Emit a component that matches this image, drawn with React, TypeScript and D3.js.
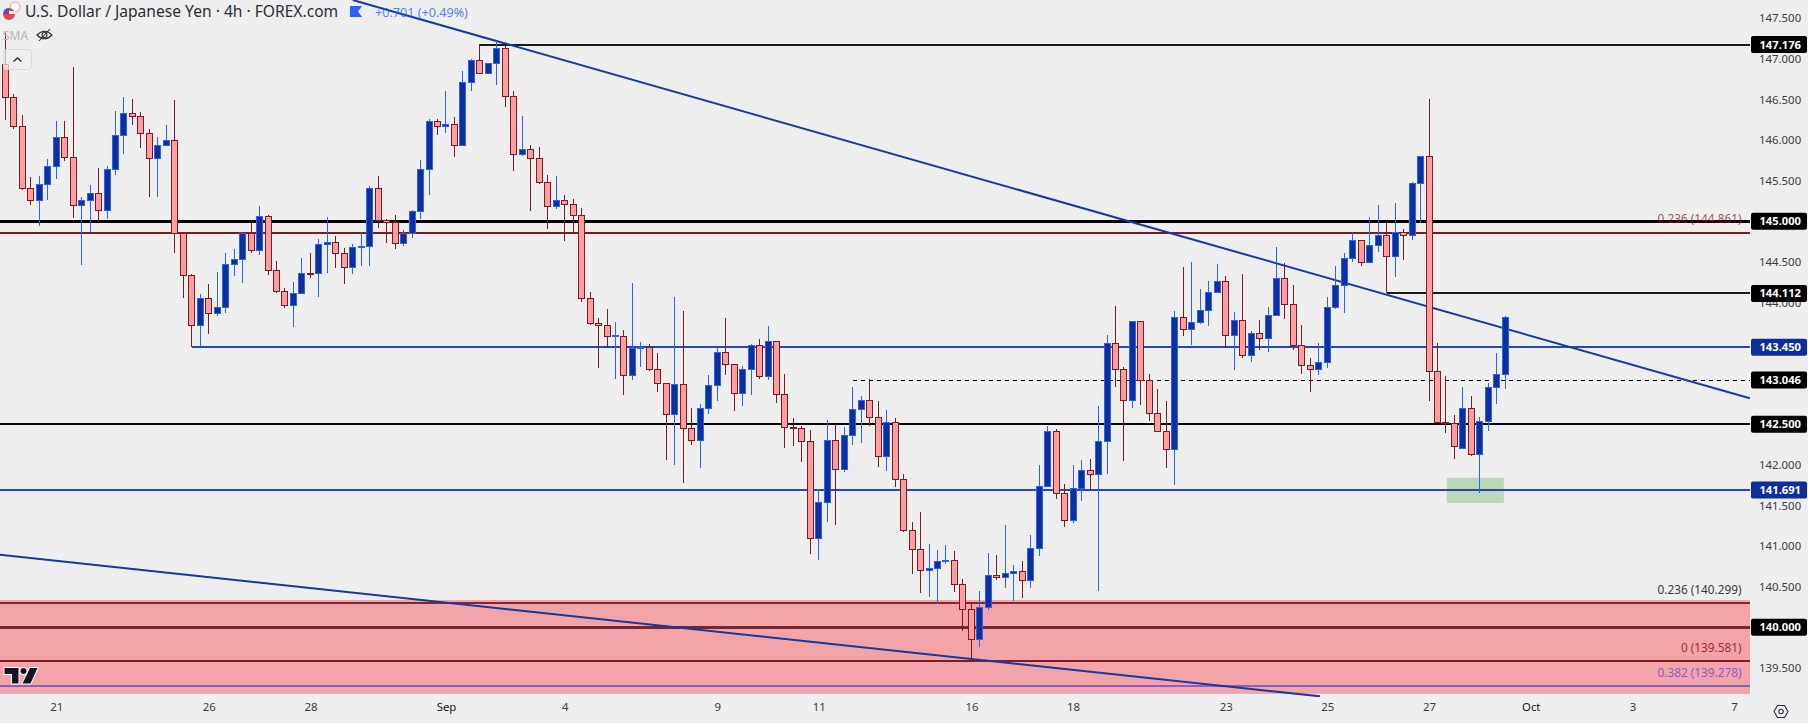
import React, { useEffect, useRef } from "react";
import * as d3 from "d3";

// OHLC per 4h bar
const opens = [
  146.933,146.527,146.166,145.402,145.259,145.456,145.677,146.034,145.788,145.197,
  145.259,145.345,145.135,145.640,146.059,146.330,146.293,146.084,145.776,145.936,
  145.998,144.852,144.335,143.719,144.052,143.867,143.941,144.470,144.532,144.852,
  144.643,145.062,144.397,144.138,143.966,144.113,144.360,144.351,144.717,144.741,
  144.606,144.434,144.680,144.692,145.406,145.012,144.988,144.729,144.852,145.123,
  145.640,146.232,146.170,146.195,145.936,146.712,146.983,146.823,146.946,147.131,
  146.539,145.825,145.887,145.776,145.480,145.185,145.259,145.209,145.074,144.052,
  143.744,143.719,143.580,143.584,143.103,143.432,143.448,143.173,143.005,142.623,
  142.993,142.451,142.303,142.697,142.980,143.387,143.239,142.882,143.177,143.473,
  143.091,143.522,142.869,142.463,142.451,142.291,141.096,141.539,142.303,141.946,
  142.365,142.685,142.796,142.586,142.106,142.525,141.823,141.195,140.961,140.702,
  140.727,140.813,140.825,140.530,140.222,139.852,140.246,140.640,140.616,140.665,
  140.690,140.579,140.973,141.737,142.414,141.650,141.318,141.712,141.934,141.884,
  142.291,143.498,143.177,142.796,143.768,143.042,142.636,142.414,142.192,143.818,
  143.670,143.756,143.904,144.126,144.261,143.596,143.781,143.350,143.621,143.559,
  143.842,144.298,143.978,143.473,143.227,143.177,143.264,143.941,144.212,144.544,
  144.766,144.495,144.704,144.828,144.569,144.865,144.828,145.468,145.800,143.153,
  142.521,142.508,142.204,142.697,142.131,142.537,142.956,143.116,
];
const closes = [
  146.527,146.166,145.402,145.259,145.456,145.677,146.034,145.788,145.197,145.259,
  145.345,145.135,145.640,146.059,146.330,146.293,146.084,145.776,145.936,145.998,
  144.852,144.335,143.719,144.052,143.867,143.941,144.470,144.532,144.852,144.643,
  145.062,144.397,144.138,143.966,144.113,144.360,144.351,144.717,144.741,144.606,
  144.434,144.680,144.692,145.406,145.008,144.988,144.729,144.852,145.123,145.640,
  146.232,146.170,146.195,145.936,146.712,146.983,146.823,146.946,147.131,146.539,
  145.825,145.887,145.776,145.480,145.185,145.259,145.209,145.074,144.052,143.744,
  143.719,143.584,143.588,143.103,143.436,143.440,143.173,143.005,142.623,142.993,
  142.451,142.303,142.697,142.980,143.387,143.239,142.882,143.177,143.473,143.091,
  143.522,142.869,142.463,142.451,142.291,141.096,141.539,142.303,141.946,142.365,
  142.685,142.796,142.586,142.106,142.525,141.823,141.195,140.961,140.702,140.727,
  140.813,140.825,140.530,140.222,139.852,140.246,140.640,140.616,140.665,140.690,
  140.579,140.973,141.737,142.414,141.650,141.318,141.712,141.934,141.884,142.291,
  143.498,143.177,142.796,143.768,143.042,142.636,142.414,142.192,143.818,143.670,
  143.756,143.904,144.126,144.261,143.596,143.781,143.350,143.621,143.559,143.842,
  144.298,143.978,143.473,143.227,143.177,143.264,143.941,144.212,144.544,144.766,
  144.495,144.704,144.828,144.569,144.865,144.828,145.468,145.800,143.153,142.521,
  142.508,142.229,142.697,142.131,142.537,142.956,143.116,143.818,
];
const highs = [
  147.315,146.564,146.309,145.546,145.558,145.768,146.236,146.236,146.901,145.300,
  145.447,145.657,145.677,146.359,146.531,146.507,146.346,146.137,146.039,146.186,
  146.494,144.852,144.351,144.105,144.228,144.376,144.610,144.659,144.869,144.979,
  145.189,145.078,144.512,144.179,144.253,144.548,144.610,144.782,145.053,144.815,
  144.672,144.721,144.869,145.435,145.558,145.029,145.078,144.893,145.140,145.755,
  146.260,146.260,146.605,146.281,146.851,146.995,147.184,146.946,147.221,147.155,
  146.605,146.297,145.940,145.915,145.571,145.558,145.324,145.275,145.164,144.130,
  143.810,143.920,143.760,143.662,144.241,143.514,143.489,143.379,143.005,144.068,
  143.896,142.701,142.750,143.108,143.452,143.810,143.239,143.218,143.489,143.551,
  143.711,143.522,143.120,142.578,142.480,142.430,141.704,142.553,142.504,142.467,
  142.960,142.845,143.058,142.787,142.677,142.578,141.888,141.297,141.420,141.026,
  140.952,141.014,140.940,140.595,140.287,140.447,140.916,140.891,141.260,140.768,
  140.817,141.137,141.999,142.480,142.443,141.765,141.999,142.061,142.073,142.726,
  143.600,143.957,143.206,143.768,143.768,143.120,142.935,142.787,143.896,144.438,
  144.499,144.167,144.265,144.475,144.327,143.883,144.351,143.649,143.781,143.945,
  144.684,144.487,144.216,143.723,143.317,143.502,144.068,144.450,144.610,144.856,
  144.766,145.053,145.201,144.979,145.226,144.901,145.484,145.800,146.507,143.502,
  143.095,142.615,142.960,142.849,142.590,143.009,143.379,143.834,
];
const lows = [
  146.248,146.137,145.386,145.201,144.943,145.263,145.521,145.743,145.041,144.462,
  144.856,144.996,145.029,145.571,145.829,146.186,145.903,145.300,145.300,145.936,
  144.610,144.056,143.452,143.452,143.613,143.834,143.871,144.327,144.241,144.610,
  144.585,144.339,144.122,143.933,143.699,144.105,144.302,144.068,144.364,144.425,
  144.228,144.351,144.450,144.450,144.918,144.733,144.659,144.696,144.795,145.029,
  145.324,146.063,146.088,145.792,145.936,146.605,146.823,146.823,146.679,146.408,
  145.620,145.805,145.127,145.460,144.906,145.152,144.758,144.869,144.007,143.723,
  143.194,143.436,143.058,142.861,143.046,143.206,143.157,142.898,142.061,141.999,
  141.778,142.246,141.962,142.627,142.787,143.108,142.664,142.726,142.861,143.058,
  143.046,142.763,142.209,142.233,142.036,140.903,140.829,141.297,141.260,141.913,
  142.246,142.270,142.480,141.975,141.925,141.728,141.174,140.657,140.423,140.374,
  140.287,140.780,140.435,139.955,139.581,139.758,140.214,140.583,140.484,140.324,
  140.361,140.484,140.879,141.737,141.580,141.236,141.285,141.556,141.691,140.447,
  141.888,142.960,142.049,142.701,142.738,142.541,142.414,141.962,141.753,143.588,
  143.477,143.736,143.711,144.126,143.440,143.169,143.317,143.268,143.415,143.391,
  143.842,143.797,143.415,143.120,142.898,143.108,143.194,143.920,143.871,144.499,
  144.450,144.495,144.622,144.117,144.314,144.524,144.770,144.975,142.787,142.512,
  142.393,142.073,142.204,142.106,141.654,142.418,142.750,142.935,
];

// x axis: bar index of each date label
const dateBars = [6, 24, 36, 52, 66, 84, 96, 114, 126, 144, 156, 168, 180, 192, 204];
const dateLabels = ["21", "26", "28", "Sep", "4", "9", "11", "16", "18", "23", "25", "27", "Oct", "3", "7"];
const priceTicks = [139.5, 140, 140.5, 141, 141.5, 142, 142.5, 143, 143.5, 144, 144.5, 145, 145.5, 146, 146.5, 147, 147.5];

// horizontal levels and the bar they start from
const levelPrices = [147.176, 145, 144.861, 144.112, 143.45, 143.046, 142.5, 141.691, 140.299, 140, 139.581, 139.278];
const levelStartBars = [56, -1, -1, 163, 22, 100, -1, -1, -1, -1, -1, -1];
const tagPrices = [147.176, 145, 144.112, 143.45, 143.046, 142.5, 141.691, 140];
const blueTags = [143.45, 141.691];

// fib labels
const fibRatios = ["0.236", "0.236", "0", "0.382"];
const fibPrices = [144.861, 140.299, 139.581, 139.278];

// trendlines: [bar, price]
const upperTrend = [[41, 147.725], [205.86, 142.82]];
const lowerTrend = [[-0.63, 140.894], [155.13, 139.15]];
const zoneBand = [140.336, 139.18];
const greenBox = { bars: [170.1, 176.83], prices: [141.84, 141.53] };

const UP_FILL = "#0d2f99", UP_LINE = "#2962ff", DOWN_FILL = "#fa9ea2", DOWN_LINE = "#801922";

export default function App() {
  const ref = useRef<SVGSVGElement>(null);

  useEffect(() => {
    const svg = d3.select(ref.current);
    svg.selectAll("*").remove();

    const width = 1808, height = 723, paneW = 1750, paneH = 697;
    const x = d3.scaleLinear().domain([0, 177]).range([5.33, 1505.3]);
    const y = d3.scaleLinear().domain([145, 140]).range([221.3, 627.3]);
    const font = "'Noto Sans', sans-serif";

    svg.append("rect").attr("width", width).attr("height", height).attr("fill", "#eeeeee");
    svg.append("clipPath").attr("id", "pane").append("rect").attr("width", paneW).attr("height", paneH);
    const pane = svg.append("g").attr("clip-path", "url(#pane)");

    // fib zone
    pane.append("rect")
      .attr("x", 0).attr("width", paneW)
      .attr("y", y(zoneBand[0])).attr("height", y(zoneBand[1]) - y(zoneBand[0]))
      .attr("fill", "#f3a4a9");

    // green box
    pane.append("rect")
      .attr("x", x(greenBox.bars[0])).attr("width", x(greenBox.bars[1]) - x(greenBox.bars[0]))
      .attr("y", y(greenBox.prices[0])).attr("height", y(greenBox.prices[1]) - y(greenBox.prices[0]))
      .attr("fill", "#bbd9b9");

    // levels
    const levelColors = ["#1a1a1a", "#000", "#801922", "#1a1a1a", "#2a4ba5", "#000", "#000", "#2a4ba5", "#7c2a32", "#76262e", "#851a25", "#8b5fbf"];
    const levelWidths = [2, 3, 2, 2, 2, 1, 2, 2, 2, 3, 2, 2];
    pane.selectAll(".level").data(levelPrices).join("line").attr("class", "level")
      .attr("x1", (d, i) => (levelStartBars[i] < 0 ? 0 : x(levelStartBars[i])))
      .attr("x2", paneW)
      .attr("y1", d => Math.round(y(d)))
      .attr("y2", d => Math.round(y(d)))
      .attr("stroke", (d, i) => levelColors[i])
      .attr("stroke-width", (d, i) => levelWidths[i])
      .attr("stroke-dasharray", d => (d === 143.046 ? "4 4" : null))
      .attr("shape-rendering", "crispEdges");

    // trendlines
    const trend = d3.line<number[]>().x(d => x(d[0])).y(d => y(d[1]));
    pane.selectAll(".trend").data([upperTrend, lowerTrend]).join("path").attr("class", "trend")
      .attr("d", d => trend(d))
      .attr("fill", "none").attr("stroke", "#163a9e").attr("stroke-width", 2);

    // candles
    const bars = d3.range(opens.length);
    const col = (i: number) => Math.floor(x(i));
    const isUp = (i: number) => closes[i] >= opens[i];
    pane.selectAll(".wick").data(bars).join("line").attr("class", "wick")
      .attr("x1", i => col(i) + 0.5).attr("x2", i => col(i) + 0.5)
      .attr("y1", i => Math.round(y(highs[i]))).attr("y2", i => Math.round(y(lows[i])))
      .attr("stroke", i => (isUp(i) ? UP_LINE : DOWN_LINE))
      .attr("shape-rendering", "crispEdges");
    pane.selectAll(".body").data(bars).join("rect").attr("class", "body")
      .attr("x", i => col(i) - 2.5).attr("width", 6)
      .attr("y", i => Math.floor(y(Math.max(opens[i], closes[i]))) + 0.5)
      .attr("height", i => Math.max(1, Math.floor(y(Math.min(opens[i], closes[i]))) - Math.floor(y(Math.max(opens[i], closes[i])))))
      .attr("fill", i => (isUp(i) ? UP_FILL : DOWN_FILL))
      .attr("stroke", i => (isUp(i) ? UP_LINE : DOWN_LINE))
      .attr("shape-rendering", "crispEdges");

    // fib labels
    const fibColors = ["#801922", "#3a3a3a", "#a12a3b", "#8b5fbf"];
    const fibOffsets = [-13, -12, -12, -12];
    svg.selectAll(".fib").data(fibPrices).join("text").attr("class", "fib")
      .attr("x", 1741.5)
      .attr("y", (d, i) => y(d) + fibOffsets[i])
      .attr("dominant-baseline", "middle")
      .attr("text-anchor", "end")
      .attr("font-family", font).attr("font-size", 11.8)
      .attr("fill", (d, i) => fibColors[i])
      .attr("fill-opacity", (d, i) => (i === 0 ? 0.75 : 1))
      .text((d, i) => `${fibRatios[i]} (${d3.format(".3f")(d)})`);

    // price axis
    const yAxis = d3.axisRight(y).tickValues(priceTicks).tickFormat(d3.format(".3f") as any).tickSize(0).tickPadding(0);
    const yG = svg.append("g").attr("transform", "translate(1759,0)").call(yAxis);
    yG.select(".domain").remove();
    yG.selectAll("text").attr("font-family", font).attr("font-size", 11.4).attr("fill", "#3c3c3c");

    // time axis
    const xAxis = d3.axisBottom(x).tickValues(dateBars)
      .tickFormat((d, i) => dateLabels[i]).tickSize(0).tickPadding(0);
    const xG = svg.append("g").attr("transform", "translate(0,703)").call(xAxis);
    xG.select(".domain").remove();
    xG.selectAll("text").attr("font-family", font).attr("font-size", 11.4)
      .attr("fill", (d: any) => (d === 52 || d === 180 ? "#131722" : "#3c3c3c"));

    // last-value tags on the axis
    const tags = svg.selectAll(".tag").data(tagPrices).join("g").attr("class", "tag")
      .attr("transform", d => `translate(1751,${y(d)})`);
    tags.append("rect")
      .attr("y", -8.5).attr("width", 56).attr("height", 17).attr("rx", 2)
      .attr("fill", d => (blueTags.includes(d) ? "#0d2f99" : "#000"));
    tags.append("text")
      .attr("x", 50).attr("y", 0).attr("dy", "0.36em")
      .attr("text-anchor", "end")
      .attr("font-family", font).attr("font-size", 11.2).attr("font-weight", 700)
      .attr("fill", "#fff")
      .text(d => d3.format(".3f")(d));

    // header text
    svg.append("text").attr("x", 25).attr("y", 17)
      .attr("font-family", font).attr("font-size", 15.6).attr("fill", "#2a2e39")
      .text("U.S. Dollar / Japanese Yen · 4h · FOREX.com");
    svg.append("text").attr("x", 375).attr("y", 17)
      .attr("font-family", font).attr("font-size", 12.6).attr("fill", "#2962ff").attr("fill-opacity", 0.8)
      .text("+0.701 (+0.49%)");
    svg.append("text").attr("x", 3).attr("y", 40)
      .attr("font-family", font).attr("font-size", 12).attr("fill", "#b4b6bc")
      .text("SMA");

    // flag icons
    svg.append("circle").attr("cx", 15).attr("cy", 7).attr("r", 5).attr("fill", "#fff").attr("stroke", "#d8a0a0");
    svg.append("circle").attr("cx", 9).attr("cy", 14).attr("r", 6).attr("fill", "#e8434a");
    svg.append("rect").attr("x", 3).attr("y", 11).attr("width", 12).attr("height", 3).attr("fill", "#f6f6f6");
    svg.append("path").attr("d", "M3 14 a6 6 0 0 1 6 -6 v6 z").attr("fill", "#2f5fd0");
    svg.append("path").attr("d", "M350 6 h12 l-4 5.5 l4 5.5 h-12 z").attr("fill", "#2962ff");

    // hidden-eye icon
    const eye = svg.append("g").attr("fill", "none").attr("stroke", "#2a2e39").attr("stroke-width", 1.1);
    eye.append("path").attr("d", "M37 35 q7.5 -7.5 15 0 q-7.5 7.5 -15 0 z");
    eye.append("circle").attr("cx", 44.5).attr("cy", 35).attr("r", 2.5);
    eye.append("path").attr("d", "M39 41 L50 29");

    // collapse button
    svg.append("rect").attr("x", 3.5).attr("y", 49.5).attr("width", 28).attr("height", 20).attr("rx", 3)
      .attr("fill", "#eeeeee").attr("fill-opacity", 0.7).attr("stroke", "#d6d8de");
    svg.append("path").attr("d", "M13.5 61.5 L17.5 58 L21.5 61.5").attr("fill", "none").attr("stroke", "#2a2e39").attr("stroke-width", 1.4);

    // TV logo
    const logo = svg.append("g").attr("fill", "#131722").attr("stroke", "#fff").attr("stroke-width", 2).attr("paint-order", "stroke");
    logo.append("path").attr("d", "M4.5 668 H18.5 V683.5 H12 V674 H4.5 Z");
    logo.append("circle").attr("cx", 23.5).attr("cy", 671).attr("r", 3);
    logo.append("path").attr("d", "M30 668 H37.5 L30.5 683.5 H22.5 Z");

    // settings hexagon
    const gear = svg.append("g").attr("fill", "none").attr("stroke", "#2a2e39").attr("stroke-width", 1.1);
    gear.append("path").attr("d", "M1774 711.5 L1777.5 705.5 H1784.5 L1788 711.5 L1784.5 717.5 H1777.5 Z");
    gear.append("circle").attr("cx", 1781).attr("cy", 711.5).attr("r", 2.2);
  }, []);

  return <svg ref={ref} width={1808} height={723} style={{ position: "absolute", left: 0, top: 0, display: "block" }} />;
}
